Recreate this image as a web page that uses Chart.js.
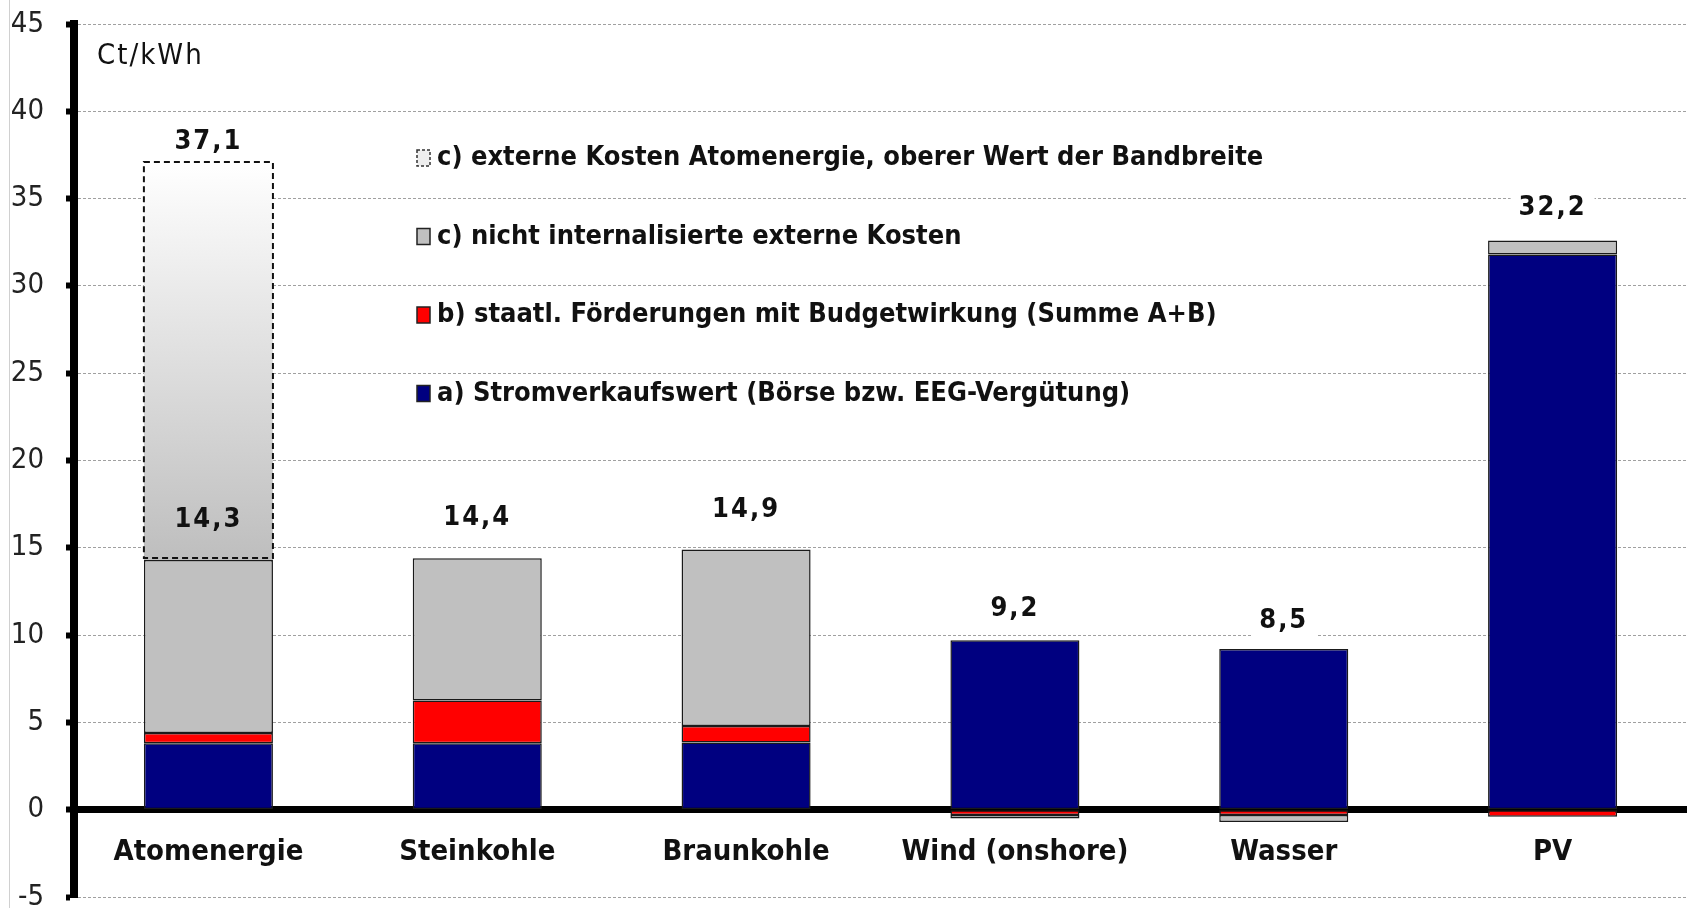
<!DOCTYPE html>
<html>
<head>
<meta charset="utf-8">
<script src="https://cdn.jsdelivr.net/npm/chart.js@4.4.1/dist/chart.umd.min.js"></script>
<style>
html, body { margin: 0; padding: 0; background: #fff; }
#wrap { width: 1687px; height: 908px; }
</style>
</head>
<body>
<div id="wrap"><canvas id="costChart"></canvas></div>
<script>
const categories = ['Atomenergie', 'Steinkohle', 'Braunkohle', 'Wind (onshore)', 'Wasser', 'PV'];
const marketValue = [3.8, 3.8, 3.85, 9.7, 9.2, 31.8];       // a) Stromverkaufswert
const subsidies = [0.6, 2.45, 0.95, -0.3, -0.3, -0.4];      // b) staatl. Förderungen
const externalCosts = [9.9, 8.15, 10.1, -0.2, -0.4, 0.8];   // c) nicht internalisierte externe Kosten
const nuclearUpper = [22.8, null, null, null, null, null];  // c) Atomenergie, oberer Wert
const yTicks = [-5, 0, 5, 10, 15, 20, 25, 30, 35, 40, 45];
const unitLabel = 'Ct/kWh';
const seriesNames = [
    'a) Stromverkaufswert (Börse bzw. EEG-Vergütung)',
    'b) staatl. Förderungen mit Budgetwirkung (Summe A+B)',
    'c) nicht internalisierte externe Kosten',
    'c) externe Kosten Atomenergie, oberer Wert der Bandbreite'
];

const FONT = "'DejaVu Sans Condensed', 'DejaVu Sans', sans-serif";
const netTotals = categories.map((c, i) => marketValue[i] + subsidies[i] + externalCosts[i]);
const fmt = v => v.toFixed(1).replace('.', ',');

function upperGradient(context) {
    const chart = context.chart;
    if (!chart.chartArea) return '#e0e0e0';
    const y = chart.scales.y;
    const top = y.getPixelForValue(netTotals[0] + nuclearUpper[0]);
    const bottom = y.getPixelForValue(netTotals[0]);
    const g = chart.ctx.createLinearGradient(0, top, 0, bottom);
    g.addColorStop(0, '#ffffff');
    g.addColorStop(1, '#bebebe');
    return g;
}

const sidePlugin = {
    id: 'sideStuff',
    beforeDraw(chart) {
        const ctx = chart.ctx;
        ctx.save();
        ctx.strokeStyle = '#d0d0d0';
        ctx.lineWidth = 1;
        ctx.beginPath();
        ctx.moveTo(9.5, 0);
        ctx.lineTo(9.5, chart.height);
        ctx.stroke();
        ctx.restore();
    },
    afterDatasetsDraw(chart) {
        const ctx = chart.ctx;
        const {x, y} = chart.scales;
        // dashed outline for the upper nuclear band
        const meta = chart.getDatasetMeta(3);
        ctx.save();
        ctx.strokeStyle = '#111';
        ctx.lineWidth = 2;
        ctx.setLineDash([6, 4]);
        meta.data.forEach((el, i) => {
            if (nuclearUpper[i] == null) return;
            const p = el.getProps(['x', 'y', 'base', 'width'], true);
            ctx.strokeRect(p.x - p.width / 2, p.y, p.width, p.base - p.y - 2);
        });
        ctx.restore();

        // value labels
        ctx.save();
        ctx.font = 'bold 27px ' + FONT;
        ctx.letterSpacing = '2px';
        ctx.textAlign = 'center';
        ctx.textBaseline = 'middle';
        netTotals.forEach((v, i) => {
            const px = x.getPixelForValue(i);
            const py = y.getPixelForValue(v) - 40;
            const txt = fmt(v);
            if (nuclearUpper[i] == null) {
                const w = ctx.measureText(txt).width + 16;
                ctx.fillStyle = '#fff';
                ctx.fillRect(px - w / 2, py - 19, w, 38);
            }
            ctx.fillStyle = '#111';
            ctx.fillText(txt, px, py);
            if (nuclearUpper[i] != null) {
                const top = v + nuclearUpper[i];
                ctx.fillText(fmt(top), px, y.getPixelForValue(top) - 20);
            }
        });
        ctx.restore();
    },
    afterDraw(chart) {
        const ctx = chart.ctx;
        ctx.save();
        ctx.fillStyle = '#111';
        ctx.textBaseline = 'middle';
        ctx.font = '29px ' + FONT;
        ctx.letterSpacing = '2px';
        ctx.fillText(unitLabel, 97, 56);
        ctx.letterSpacing = '0px';

        // legend, reversed order like the original
        const swatches = [
            {fill: '#000080'}, {fill: '#ff0000'}, {fill: '#c0c0c0'}, {fill: '#eeeeee', dashed: true}
        ];
        ctx.font = 'bold 27px ' + FONT;
        for (let k = 0; k < 4; k++) {
            const idx = 3 - k;
            const cy = 158 + k * 78.5;
            const s = swatches[idx];
            ctx.fillStyle = s.fill;
            ctx.fillRect(417, cy - 8, 13, 16);
            ctx.strokeStyle = s.dashed ? '#333' : '#222';
            ctx.lineWidth = 1.5;
            if (s.dashed) ctx.setLineDash([3, 2]);
            ctx.strokeRect(417, cy - 8, 13, 16);
            ctx.setLineDash([]);
            ctx.fillStyle = '#111';
            ctx.fillText(seriesNames[idx], 437, cy);
        }
        ctx.restore();
    }
};

function barSet(label, data, color) {
    return {
        label: label,
        data: data,
        backgroundColor: color,
        borderColor: '#1a1a1a',
        borderWidth: 1.5,
        borderSkipped: false,
        barPercentage: 0.48,
        categoryPercentage: 1.0
    };
}

const chart = new Chart(document.getElementById('costChart'), {
    type: 'bar',
    data: {
        labels: categories,
        datasets: [
            barSet(seriesNames[0], marketValue, '#000080'),
            barSet(seriesNames[1], subsidies, '#ff0000'),
            barSet(seriesNames[2], externalCosts, '#c0c0c0'),
            Object.assign(barSet(seriesNames[3], nuclearUpper, upperGradient), {borderWidth: 0})
        ]
    },
    options: {
        responsive: true,
        maintainAspectRatio: false,
        animation: false,
        events: [],
        layout: { padding: { top: 24, bottom: 11, left: 0, right: 0 } },
        plugins: { legend: { display: false }, tooltip: { enabled: false } },
        scales: {
            x: {
                stacked: true,
                position: { y: 0 },
                afterFit: s => { s.paddingLeft = 0; s.paddingRight = 0; s.paddingTop = 0; s.paddingBottom = 0; },
                grid: { display: false },
                border: { display: true, width: 7, color: '#000' },
                ticks: { padding: 17, color: '#111', font: { family: FONT, size: 29, weight: 'bold' } }
            },
            y: {
                stacked: true,
                min: -5,
                max: 45,
                afterFit: s => { s.width = 74; s.paddingTop = 0; s.paddingBottom = 0; },
                afterBuildTicks: s => { s.ticks = yTicks.map(v => ({value: v})); },
                grid: { color: '#a0a0a0', lineWidth: 1, tickLength: 8, tickWidth: 6, tickColor: '#000' },
                border: { display: true, width: 8, color: '#000', dash: [3, 2] },
                ticks: { padding: 22, color: '#222', font: { family: FONT, size: 29 } }
            }
        }
    },
    plugins: [sidePlugin]
});
</script>
</body>
</html>
